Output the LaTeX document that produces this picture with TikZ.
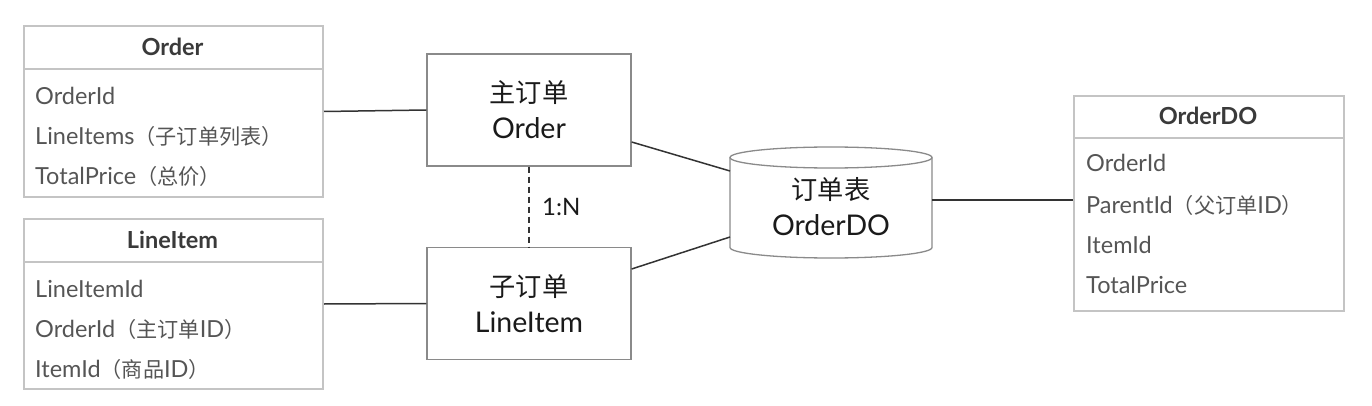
\documentclass[tikz,border=0pt]{standalone}
\usepackage{fontspec}
\setmainfont{Lato}
\newfontfamily\cjk[Scale=0.9]{Noto Sans CJK SC}
\newfontfamily\cjkbig[Scale=0.92]{Noto Sans CJK SC}
\usetikzlibrary{calc}
\definecolor{tblborder}{HTML}{C4C4C4}
\definecolor{tbltext}{HTML}{555555}
\definecolor{headtext}{HTML}{3A3A3A}
\definecolor{boxborder}{HTML}{8A8A8A}
\definecolor{linkc}{HTML}{333333}
\definecolor{maintext}{HTML}{1A1A1A}
\begin{document}
\begin{tikzpicture}[x=1pt,y=1pt,
  tblframe/.style={draw=tblborder, line width=2pt, inner sep=0pt, anchor=north west},
  sepline/.style={draw=tblborder, line width=2pt},
  field/.style={anchor=west, inner sep=0pt, text=tbltext, font=\fontsize{23.5}{26}\selectfont},
  head/.style={inner sep=0pt, text=headtext, font=\fontsize{23.5}{26}\selectfont\bfseries},
  ent/.style={draw=boxborder, line width=1.3pt, minimum width=204pt, minimum height=112pt, inner sep=0pt, align=center, text=maintext, font=\fontsize{28.5}{36}\selectfont},
  cyl/.style={draw=boxborder, line width=1.3pt, fill=white},
  link/.style={draw=linkc, line width=1.5pt}]
\useasboundingbox (0,0) rectangle (1372,-406);

% ---- Order table
\node[tblframe, minimum width=299pt, minimum height=171pt] (ordertbl) at (23,-25) {};
\draw[sepline] (23,-69) -- (322,-69);
\node[head] (orderhead) at (172.5,-47) {Order};
\node[field] (o1) at (35,-96) {OrderId};
\node[field] (o2) at (35,-136) {LineItems{\cjk （子订单列表）}};
\node[field] (o3) at (35,-176) {TotalPrice{\cjk （总价）}};

% ---- LineItem table
\node[tblframe, minimum width=299pt, minimum height=170pt] (linetbl) at (23,-218) {};
\draw[sepline] (23,-262) -- (322,-262);
\node[head] (linehead) at (172.5,-240) {LineItem};
\node[field] (l1) at (35,-289) {LineItemId};
\node[field] (l2) at (35,-329) {OrderId{\cjk （主订单}ID{\cjk ）}};
\node[field] (l3) at (35,-369) {ItemId{\cjk （商品}ID{\cjk ）}};

% ---- OrderDO table
\node[tblframe, minimum width=270pt, minimum height=215pt] (dotbl) at (1073,-95) {};
\draw[sepline] (1073,-138) -- (1343,-138);
\node[head] (dohead) at (1208,-116) {OrderDO};
\node[field] (d1) at (1086,-163) {OrderId};
\node[field] (d2) at (1086,-205) {ParentId{\cjk （父订单}ID{\cjk ）}};
\node[field] (d3) at (1086,-245) {ItemId};
\node[field] (d4) at (1086,-285) {TotalPrice};

% ---- middle entities
\node[ent] (main) at (529,-110) {{\cjkbig 主订单}\\Order};
\node[ent] (sub) at (529,-303.5) {{\cjkbig 子订单}\\LineItem};

% ---- cylinder
\draw[cyl] (730,-157.5) -- (730,-247.5) arc[start angle=180,end angle=360,x radius=101,y radius=10.5] -- (932,-157.5);
\draw[cyl] (831,-157.5) ellipse[x radius=101,y radius=10.5];
\node[minimum width=202pt, minimum height=111pt, inner sep=0pt, align=center, text=maintext, font=\fontsize{28.5}{36}\selectfont] (db) at (831,-207) {{\cjkbig 订单表}\\OrderDO};

% ---- connectors
\draw[link] (ordertbl.east) -- (main.west);
\draw[link] (linetbl.east) -- (sub.west);
\draw[link] ([yshift=-32pt]main.east) -- ([xshift=-101pt,yshift=36pt]db.center);
\draw[link] ([yshift=34.5pt]sub.east) -- ([xshift=-101pt,yshift=-30pt]db.center);
\draw[link] ([xshift=101pt,yshift=7pt]db.center) -- (dotbl.west |- 0,-200);
\draw[link, dashed, dash pattern=on 6pt off 4pt] (main.south) -- node[right=9pt, text=maintext, font=\fontsize{24}{26}\selectfont] (ratio) {1:N} (sub.north);
\end{tikzpicture}
\end{document}
